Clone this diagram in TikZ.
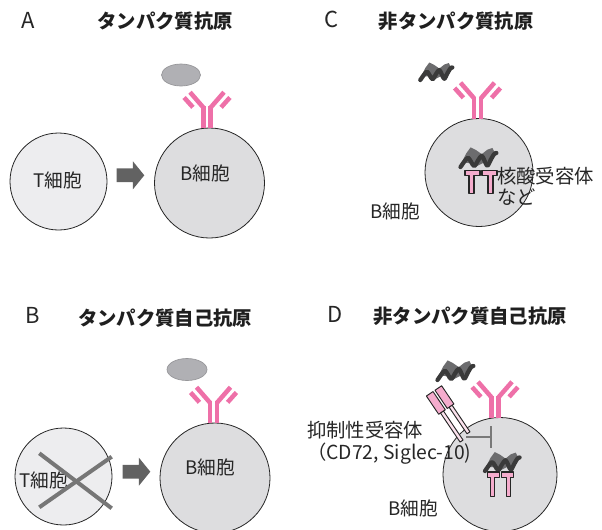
\documentclass[tikz,border=0pt]{standalone}
\usepackage{fontspec}
\setmainfont{Noto Sans CJK JP}
\usepackage{tikz}
\usetikzlibrary{arrows.meta}
\usetikzlibrary{positioning}

\definecolor{abpink}{RGB}{238,112,168}
\definecolor{rcpink}{RGB}{245,172,205}
\definecolor{tfill}{RGB}{237,237,239}
\definecolor{bfill}{RGB}{221,221,223}
\definecolor{agfill}{RGB}{176,176,180}
\definecolor{wavecol}{RGB}{58,58,58}
\definecolor{patchcol}{RGB}{108,108,110}
\definecolor{arrowcol}{RGB}{98,98,98}
\definecolor{crosscol}{RGB}{118,118,118}
\definecolor{ink}{RGB}{38,38,38}

\tikzset{
  cell/.style={circle,draw=ink,line width=0.6pt,inner sep=0pt},
  tcell/.style={cell,fill=tfill,minimum size=72.75pt},
  bcell/.style={cell,fill=bfill,minimum size=82.5pt},
  lbl/.style={text=ink,font=\fontsize{14}{17}\selectfont,inner sep=0pt},
  ttl/.style={text=black!88,font=\fontsize{14.5}{17}\selectfont\bfseries,inner sep=0pt},
  panel/.style={text=ink,font=\fontsize{16.5}{18}\selectfont,inner sep=0pt},
  antigen/.style={fill=agfill,draw=agfill!85!black,line width=0.5pt},
  blockarrow/.style={fill=arrowcol},
  cross/.style={crosscol,line width=3pt},
  inhib/.style={draw=gray!95!black,line width=1.5pt,-{Bar[width=16.5pt,line width=1.5pt]}},
}

% Y-shaped antibody, base sitting on the cell surface
\newcommand{\antibody}[1]{%
  \begin{scope}[shift={#1},abpink,line width=3.4pt]
    \draw (-3.5,0) -- (-3.5,-22);  \draw (3.5,0) -- (3.5,-22);
    \draw (-3.5,-20.5) -- (-17,-36); \draw (3.5,-20.5) -- (17,-36);
    \draw (-14.1,-20.9) -- (-22.9,-30.7); \draw (14.1,-20.9) -- (22.9,-30.7);
  \end{scope}}

% nucleic-acid type antigen: crumpled patch with a wavy strand
\newcommand{\squiggle}[2]{%
  \begin{scope}[shift={#1},scale=#2]
    \fill[patchcol] (1,-4) -- (5,-12) -- (9,-17.5) -- (14,-15) -- (19,-11.5) -- (24,-15.5)
      -- (28.5,-17) -- (31,-12) -- (27.5,-6) -- (22,-4.5) -- (15,-1) -- (8,-3.5) -- cycle;
    \draw[wavecol,line width=3.2pt,line cap=round,line join=round]
      plot[smooth,tension=0.55] coordinates {(0,0) (3.5,-5) (6.7,-8.3) (9.5,-4.5) (12.3,-0.8)
        (15.7,-6) (19,-10) (21.5,-5.5) (24,-1.2) (27,-6.5) (30,-11.5) (32,-12.5)};
  \end{scope}}

% intracellular receptor, two pink hooks
\newcommand{\nareceptor}[2]{%
  \begin{scope}[shift={#1},#2,fill=rcpink,draw=ink,line width=0.8pt]
    \filldraw (-16,0) -- (-1,0) -- (-1,5) -- (-7,5) -- (-7,23) -- (-12,23) -- (-12,5) -- (-16,5) -- cycle;
    \filldraw (1,0) -- (16,0) -- (16,5) -- (12,5) -- (12,23) -- (7,23) -- (7,5) -- (1,5) -- cycle;
  \end{scope}}

% inhibitory receptor rod (head + stalk)
\newcommand{\inhrod}[2]{%
  \begin{scope}[shift={#1},rotate=-56,draw=ink,line width=0.7pt]
    \filldraw[fill=rcpink] (0,-4) rectangle (22,4);
    \filldraw[fill=rcpink!35] (22,-1.8) rectangle (#2,1.8);
  \end{scope}}

% thick gray block arrow
\newcommand{\blockarr}[1]{%
  \fill[blockarrow,shift={#1}] (0,-6.9) -- (16.4,-6.9) -- (16.4,-14) -- (27.8,0)
    -- (16.4,14) -- (16.4,6.9) -- (0,6.9) -- cycle;}

\begin{document}
\begin{tikzpicture}[x=0.75pt,y=-0.75pt,line join=round]
\useasboundingbox (0,0) rectangle (602,529);

% --- A: protein antigen
\begin{scope}
\node[panel] (panA) at (28,20) {A};
\node[ttl] (ttlA) at (165,21) {タンパク質抗原};
\node[tcell] (tcellA) at (58.5,181.5) {};
\node[lbl] (tlabA) at (58,180) {T細胞};
\blockarr{(116.5,175.3)}
\node[bcell] (bcellA) at (209.5,183) {};
\node[lbl] (blabA) at (205,173) {B細胞};
\antibody{(207,128.2)}
\draw[antigen] (181,75) ellipse [x radius=19.5,y radius=11];
\end{scope}

% --- B: protein self antigen
\begin{scope}
\node[panel] (panB) at (33,315) {B};
\node[ttl] (ttlB) at (165,318) {タンパク質自己抗原};
\node[tcell] (tcellB) at (63.5,476.5) {};
\node[lbl] (tlabB) at (44,480) {T細胞};
\draw[cross] (39.3,453.3) -- (111.7,508.3);
\draw[cross] (111.7,456.7) -- (39.3,507.3);
\blockarr{(122.5,471.7)}
\node[bcell] (bcellB) at (215,478) {};
\node[lbl] (blabB) at (210,467) {B細胞};
\antibody{(213.5,423.2)}
\draw[antigen] (187,369.5) ellipse [x radius=20,y radius=11];
\end{scope}

% --- C: non-protein antigen
\begin{scope}
\node[panel] (panC) at (332,19) {C};
\node[ttl] (ttlC) at (456,21) {非タンパク質抗原};
\node[cell,fill=bfill,minimum size=81pt] (bcellC) at (479,172.5) {};
\antibody{(477.5,118.7)}
\squiggle{(420.3,80)}{1}
\squiggle{(460.5,167)}{1.12}
\nareceptor{(481,170.5)}{scale=1}
\node[lbl,align=left,anchor=west,font=\fontsize{14.5}{15.4}\selectfont] (nalab) at (497,186.5) {核酸受容体\\など};
\node[lbl] (blabC) at (395,211) {B細胞};
\end{scope}

% --- D: non-protein self antigen
\begin{scope}
\node[panel] (panD) at (335,314) {D};
\node[ttl] (ttlD) at (470,316) {非タンパク質自己抗原};
\node[cell,fill=bfill,minimum size=85.5pt] (bcellD) at (500,474.5) {};
\antibody{(495,417.8)}
\squiggle{(437.5,380)}{1.12}
\squiggle{(485,471)}{1.08}
\nareceptor{(500.5,472)}{xscale=0.82,yscale=1.08}
\inhrod{(429.7,393.8)}{57}
\inhrod{(438.3,388)}{54}
\coordinate (inhs) at (466,437);
\coordinate (inhe) at (492,437);
\draw[inhib] (inhs) -- (inhe);
\node[lbl,align=left,anchor=west,font=\fontsize{14.5}{16.5}\selectfont] (inhlab) at (307,443) {抑制性受容体\\（CD72, Siglec-10)};
\node[lbl] (blabD) at (413,508) {B細胞};
\end{scope}
\end{tikzpicture}
\end{document}
